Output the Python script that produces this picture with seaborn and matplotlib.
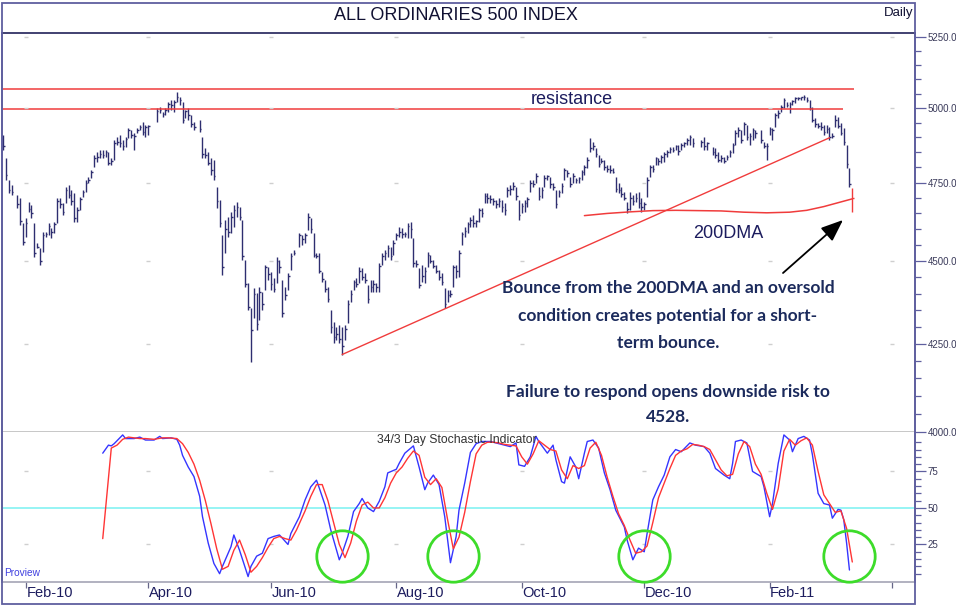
import numpy as np
import pandas as pd
import matplotlib
matplotlib.use("Agg")
import matplotlib.pyplot as plt
import seaborn as sns
from matplotlib.patches import Rectangle
from matplotlib.ticker import FixedLocator, NullFormatter, FuncFormatter

# ---- daily bars, one entry per weekday from 20 Jan 2010 (None = market closed)
highs = [
    4909, 4832, 4759, 4743, None, 4710, 4700, 4620, 4636, 4688,
    4678, 4620, 4557, 4541, 4592, 4592, 4620, 4604, 4624, 4700,
    4700, 4684, 4736, 4743, 4727, 4717, 4672, 4704, 4727, 4759,
    4769, 4792, 4842, 4852, 4859, 4859, 4859, 4852, 4832, 4892,
    4902, 4909, 4892, 4902, 4933, 4926, 4916, 4933, 4943, 4953,
    4943, 4943, None, None, 5002, 5005, 4988, 5002, 5022, 5029,
    5029, 5057, 5040, 5022, 4995, 5002, 4978, 4953, None, 4960,
    4902, 4866, 4852, 4832, 4825, 4736, 4694, 4582, 4630, 4640,
    4656, 4678, 4688, 4672, 4630, 4504, 4433, 4357, 4418, 4402,
    4421, 4405, 4488, 4482, 4467, 4448, 4513, 4504, 4442, 4421,
    4464, 4526, 4535, None, 4588, 4582, 4588, 4652, 4636, 4588,
    4526, 4526, 4467, 4442, 4421, 4351, 4315, 4300, 4307, 4300,
    4307, 4381, 4412, 4442, 4448, 4482, 4479, 4464, 4427, 4442,
    4442, 4433, 4495, 4526, 4535, 4551, 4545, 4566, 4588, 4608,
    4604, 4592, 4620, 4624, 4572, 4504, 4479, 4488, 4482, 4529,
    4519, 4504, 4488, 4473, 4464, 4418, 4412, 4412, 4488, 4488,
    4535, 4592, 4608, 4624, 4640, 4646, 4630, 4668, 4668, 4717,
    4717, 4710, 4700, 4694, 4700, 4694, 4684, 4736, 4743, 4753,
    4736, 4694, 4684, 4694, 4704, 4759, 4759, 4782, 4736, 4736,
    4776, 4776, 4769, 4749, 4727, 4727, 4749, 4799, 4792, 4769,
    4782, 4766, 4769, 4792, 4809, 4836, 4899, 4886, 4866, 4842,
    4832, 4825, 4809, 4809, 4799, 4769, 4749, 4736, 4720, 4688,
    4720, 4710, 4717, 4720, 4700, 4688, 4769, 4809, 4809, 4836,
    4832, 4842, 4852, 4859, 4869, 4869, 4876, 4876, 4882, 4886,
    4899, 4909, 4899, None, None, 4892, 4902, 4886, None, 4869,
    4866, 4852, 4842, 4836, 4842, 4859, 4882, 4926, 4936, 4926,
    4953, 4943, 4916, 4933, 4926, None, 4926, 4886, 4882, 4936,
    4933, 4985, 4995, 5012, 5036, 5022, 5022, 5029, 5040, 5040,
    5040, 5047, 5040, 5029, 5005, 4967, 4950, 4953, 4943, 4943,
    4936, 4916, 4978, 4971, 4950, 4933, 4876, 4799, 4733,
]
lows = [
    4859, 4759, 4717, 4710, None, 4668, 4614, 4551, 4576, 4656,
    4636, 4513, 4541, 4488, 4529, 4576, 4582, 4572, 4588, 4620,
    4668, 4646, 4684, 4700, 4678, 4624, 4624, 4662, 4704, 4720,
    4749, 4766, 4802, 4819, 4832, 4832, 4836, 4809, 4809, 4825,
    4876, 4869, 4859, 4869, 4899, 4899, 4859, 4916, 4926, 4909,
    4902, 4909, None, None, 4953, 4985, 4971, 4978, 4988, 4995,
    4988, 5022, 5012, 4950, 4967, 4960, 4936, 4926, None, 4919,
    4832, 4832, 4809, 4776, 4759, 4668, 4608, 4458, 4526, 4576,
    4588, 4608, 4640, 4630, 4504, 4421, 4351, 4198, 4327, 4292,
    4321, 4351, 4412, 4442, 4412, 4405, 4433, 4464, 4330, 4381,
    4412, 4473, 4519, None, 4545, 4551, 4557, 4598, 4588, 4513,
    4510, 4464, 4436, 4405, 4375, 4283, 4253, 4262, 4253, 4219,
    4262, 4312, 4375, 4412, 4421, 4433, 4442, 4433, 4372, 4405,
    4405, 4405, 4405, 4488, 4504, 4513, 4504, 4519, 4566, 4576,
    4572, 4576, 4572, 4572, 4482, 4482, 4418, 4436, 4433, 4482,
    4495, 4479, 4464, 4442, 4427, 4357, 4375, 4390, 4421, 4448,
    4452, 4551, 4576, 4588, 4608, 4608, 4608, 4624, 4640, 4684,
    4684, 4684, 4678, 4668, 4672, 4656, 4646, 4704, 4710, 4727,
    4694, 4630, 4652, 4656, 4672, 4720, 4736, 4749, 4694, 4700,
    4736, 4759, 4733, 4727, 4668, 4704, 4717, 4759, 4769, 4736,
    4749, 4749, 4749, 4759, 4776, 4799, 4852, 4859, 4836, 4802,
    4815, 4792, 4786, 4782, 4782, 4720, 4717, 4704, 4694, 4652,
    4662, 4678, 4688, 4668, 4656, 4662, 4704, 4769, 4786, 4809,
    4809, 4815, 4819, 4836, 4849, 4852, 4859, 4842, 4859, 4869,
    4876, 4876, 4869, None, None, 4869, 4859, 4859, None, 4842,
    4832, 4819, 4819, 4815, 4825, 4836, 4849, 4876, 4902, 4882,
    4909, 4892, 4876, 4892, 4899, None, 4882, 4866, 4825, 4909,
    4892, 4936, 4967, 4988, 5002, 5005, 4985, 5012, 5019, 5029,
    5029, 5029, 5022, 4995, 4953, 4936, 4933, 4926, 4909, 4916,
    4892, 4899, 4936, 4933, 4909, 4876, 4799, 4736, 4656,
]
closes = [
    4870, 4775, 4725, 4720, None, 4680, 4625, 4560, 4620, 4665,
    4650, 4525, 4545, 4500, 4580, 4585, 4610, 4590, 4615, 4690,
    4680, 4655, 4725, 4710, 4690, 4635, 4660, 4695, 4720, 4750,
    4760, 4785, 4830, 4835, 4845, 4840, 4850, 4815, 4820, 4880,
    4885, 4880, 4870, 4895, 4925, 4910, 4905, 4925, 4935, 4920,
    4935, 4940, None, None, 4990, 4995, 4980, 4995, 5015, 5010,
    5020, 5040, 5030, 4960, 4990, 4975, 4945, 4935, None, 4930,
    4845, 4840, 4815, 4790, 4770, 4690, 4620, 4480, 4600, 4590,
    4640, 4660, 4670, 4640, 4515, 4430, 4360, 4290, 4400, 4310,
    4405, 4370, 4480, 4460, 4430, 4415, 4500, 4480, 4340, 4395,
    4455, 4515, 4525, None, 4580, 4570, 4580, 4640, 4600, 4520,
    4515, 4470, 4445, 4415, 4385, 4300, 4270, 4280, 4265, 4245,
    4295, 4370, 4400, 4435, 4430, 4470, 4450, 4440, 4385, 4420,
    4430, 4420, 4485, 4515, 4525, 4540, 4515, 4555, 4580, 4590,
    4585, 4585, 4610, 4600, 4495, 4490, 4425, 4455, 4470, 4520,
    4500, 4485, 4470, 4450, 4435, 4370, 4395, 4400, 4480, 4470,
    4525, 4585, 4595, 4615, 4630, 4620, 4625, 4660, 4650, 4705,
    4700, 4695, 4690, 4680, 4690, 4670, 4660, 4725, 4730, 4740,
    4705, 4645, 4675, 4685, 4695, 4750, 4745, 4770, 4705, 4725,
    4765, 4770, 4745, 4735, 4680, 4720, 4740, 4790, 4780, 4745,
    4770, 4760, 4765, 4785, 4800, 4825, 4865, 4870, 4845, 4810,
    4820, 4800, 4795, 4790, 4785, 4730, 4725, 4712, 4700, 4665,
    4700, 4690, 4700, 4685, 4670, 4680, 4760, 4800, 4795, 4830,
    4820, 4835, 4845, 4850, 4860, 4858, 4870, 4855, 4875, 4880,
    4890, 4900, 4880, None, None, 4885, 4870, 4880, None, 4850,
    4840, 4825, 4830, 4820, 4835, 4850, 4875, 4915, 4925, 4890,
    4945, 4900, 4905, 4925, 4915, None, 4890, 4870, 4870, 4930,
    4925, 4975, 4985, 5005, 5030, 5010, 5015, 5025, 5035, 5035,
    5038, 5040, 5030, 5000, 4960, 4945, 4940, 4935, 4920, 4930,
    4900, 4905, 4960, 4940, 4915, 4885, 4810, 4745, 4700,
]

# ---- overlays on the price panel (bar numbers count weekdays from 20 Jan 2010)
resistance_levels = [5067, 4998]
trend_days = [119, 290]
trend_values = [4219, 4899]
dma_days = [204, 212, 220, 228, 236, 244, 252, 260, 268, 276, 282, 288, 292, 296, 298]
dma_values = [4643, 4650, 4655, 4659, 4660, 4659, 4658, 4654, 4652, 4654, 4660, 4672, 4682, 4692, 4697]

# ---- 34/3 day stochastic, %K (blue) and %D (red)
k_days = [
    35, 37, 38, 39, 42, 43, 46, 48, 50, 53,
    55, 56, 59, 61, 62, 63, 65, 67, 69, 70,
    72, 74, 76, 77, 80, 81, 83, 86, 87, 89,
    91, 93, 95, 97, 100, 101, 104, 106, 108, 110,
    111, 113, 115, 118, 119, 121, 123, 125, 126, 128,
    130, 132, 134, 135, 138, 139, 141, 144, 146, 148,
    149, 151, 153, 155, 157, 159, 160, 162, 164, 166,
    168, 171, 173, 176, 178, 180, 181, 183, 185, 187,
    188, 191, 193, 194, 196, 197, 199, 201, 202, 204,
    205, 207, 209, 211, 213, 215, 218, 219, 221, 223,
    225, 226, 228, 230, 232, 234, 236, 238, 241, 243,
    246, 248, 250, 253, 255, 256, 257, 259, 261, 263,
    266, 267, 269, 270, 272, 274, 276, 277, 279, 281,
    283, 284, 286, 288, 290, 291, 293, 294, 295, 296,
    297,
]
k_vals = [
    87.5, 93, 92.5, 94, 100, 97.5, 97.5, 98.5, 96.5, 96.5,
    99, 97.5, 98, 97, 93, 86, 78, 71.5, 58, 44,
    26, 12, 5, 10, 23.5, 31.5, 21, 3, 10, 17,
    19, 29, 30.5, 31.5, 25, 32.5, 44, 55.5, 64.5, 69,
    63.5, 52, 35, 14.5, 19, 30.5, 47.5, 53, 56.5, 50,
    47.5, 54.5, 64.5, 74, 76.5, 80.5, 87.5, 92.5, 78, 62.5,
    67, 72.5, 66, 44, 12.5, 30.5, 48.5, 67, 88, 94,
    95.5, 95.5, 94.5, 93, 92, 94.5, 79.5, 78.5, 85, 99,
    95.5, 87.5, 93, 83, 68, 67, 85, 78, 70, 87.5,
    95.5, 96.5, 91, 74, 62.5, 48.5, 37, 28, 14.5, 22.5,
    20, 32.5, 55.5, 64.5, 72.5, 85, 90, 88.5, 94.5, 93,
    92, 87.5, 77, 72.5, 70, 80.5, 95.5, 96.5, 94.5, 75,
    71.5, 64.5, 44, 53, 80.5, 100, 96.5, 88.5, 97.5, 99,
    96.5, 86.5, 60, 53, 52, 43, 49, 48.5, 42, 26,
    7.5,
]
d_days = [
    35, 38, 40, 42, 44, 46, 48, 50, 53, 56,
    58, 61, 63, 65, 67, 69, 71, 73, 75, 77,
    79, 81, 83, 85, 87, 89, 91, 93, 95, 97,
    99, 101, 103, 106, 108, 110, 112, 114, 116, 118,
    120, 122, 124, 126, 128, 130, 132, 134, 136, 138,
    140, 142, 144, 146, 148, 150, 152, 154, 156, 158,
    160, 162, 164, 166, 168, 170, 172, 174, 176, 178,
    180, 182, 184, 186, 188, 190, 192, 194, 196, 198,
    200, 202, 204, 206, 208, 210, 212, 214, 216, 218,
    220, 222, 224, 226, 228, 230, 232, 234, 236, 238,
    240, 242, 244, 246, 248, 250, 252, 254, 256, 258,
    260, 262, 264, 266, 268, 270, 272, 274, 276, 278,
    280, 282, 284, 286, 288, 290, 292, 294, 296, 298,
]
d_vals = [
    29, 91, 93, 97, 98.5, 98, 97.5, 97.5, 97, 98,
    98, 97.5, 94, 88, 80, 69, 55, 39, 22, 8,
    10, 21, 28, 18, 6, 10, 16, 23, 29, 30.5,
    29, 28, 35, 48, 58, 66, 66, 55, 40, 25,
    16, 26, 41, 52, 54, 50, 50, 57, 67, 74,
    78, 84, 89, 86, 71, 66, 70, 64, 42, 22,
    30, 47, 68, 87, 93, 95, 95, 94.5, 93.5, 93,
    92.5, 85, 80, 87, 96, 93, 90, 89, 76, 70,
    79, 77, 79, 91, 95, 86, 71, 58, 46, 38,
    28, 19, 20, 24, 40, 57, 67, 77, 86, 89,
    90.5, 93.5, 93, 92, 90, 83, 76, 72, 73, 87,
    95.5, 92, 80, 73, 60, 49, 63, 89, 97, 93,
    96, 98, 93, 75, 59, 53, 47, 48, 36, 13,
]
oversold_days = [119, 158, 225, 297]
oversold_level = 17

price_ticks = [4000, 4250, 4500, 4750, 5000, 5250]
stoch_ticks = [25, 50, 75]
tick_months = ["2010-02", "2010-04", "2010-06", "2010-08", "2010-10", "2010-12", "2011-02", "2011-04"]
month_labels = ["Feb-10", "Apr-10", "Jun-10", "Aug-10", "Oct-10", "Dec-10", "Feb-11", ""]

note_lines = [
    "Bounce from the 200DMA and an oversold",
    "condition creates potential for a short-",
    "term bounce.",
    "Failure to respond opens downside risk to",
    "4528.",
]

# ---------------------------------------------------------------------------
sns.set_theme(style="ticks")
plt.rcParams["font.family"] = ["Liberation Sans", "DejaVu Sans"]

W, H = 956, 609
def fx(px):
    return px / W
def fy(py):
    return 1 - py / H

frame_col = "#5f5f9f"
bar_col = "#2e2e70"
red = "#f03c3c"
navy_txt = "#1c1c5e"

calendar = pd.bdate_range("2010-01-20", "2011-04-29")
ym = calendar.strftime("%Y-%m")
tick_pos = [int(np.argmax(ym == m)) for m in tick_months]

fig = plt.figure(figsize=(W / 100, H / 100), dpi=100)
ax = fig.add_axes([fx(2), fy(432), fx(915) - fx(2), fy(33) - fy(432)])
ax2 = fig.add_axes([fx(2), fy(582), fx(915) - fx(2), fy(432) - fy(582)], sharex=ax)

hi = np.array(highs, dtype=float)
lo = np.array(lows, dtype=float)
cl = np.array(closes, dtype=float)
days = np.arange(len(cl))
ok = ~np.isnan(cl)
last = days[ok][-1]
cols = np.where(days == last, red, bar_col)

ax.set_yscale("log")
ax.vlines(days[ok], lo[ok], hi[ok], colors=cols[ok], lw=1.0)
ax.hlines(cl[ok], days[ok], days[ok] + 0.55, colors=cols[ok], lw=1.0)

# resistance, trend line, 200 day average
ax.hlines(resistance_levels[0], -0.35, 298.6, color=red, lw=1.1)
ax.hlines(resistance_levels[1], -0.35, 294.7, color=red, lw=1.1)
ax.plot(trend_days, trend_values, color=red, lw=1.0)
sns.lineplot(x=dma_days, y=dma_values, ax=ax, color=red, linewidth=1.1)

# faint grid marks
for p in tick_pos:
    for lv in price_ticks[1:]:
        ax.plot(p, lv, marker="_", ms=3, color="#cfcfcf", mew=1)
    for lv in [25, 75]:
        ax2.plot(p, lv, marker="_", ms=3, color="#cfcfcf", mew=1)

ax.set_xlim(-0.35, 320)
ax.set_ylim(3999.5, 5266)
ax.yaxis.set_major_locator(FixedLocator(price_ticks))
ax.yaxis.set_minor_locator(FixedLocator(list(range(4050, 5300, 50))))
ax.yaxis.set_major_formatter(FuncFormatter(lambda v, p: f"{v:.1f}"))
ax.yaxis.set_minor_formatter(NullFormatter())
ax.tick_params(axis="y", which="both", left=False, labelleft=False, right=True, labelright=True,
               direction="out", color=frame_col, width=0.9)
ax.tick_params(axis="y", which="major", length=8, labelsize=7, labelcolor="#3a3a5a", pad=1)
ax.tick_params(axis="y", which="minor", length=4)
ax.tick_params(axis="x", which="both", bottom=False, top=False, labelbottom=False)
ax.set_ylabel("")
for s in ["left", "right"]:
    ax.spines[s].set_color(frame_col)
    ax.spines[s].set_linewidth(1.2)
ax.spines["top"].set_color("#333366")
ax.spines["top"].set_linewidth(1.3)
ax.spines["bottom"].set_color("#c0c0c0")

# stochastic panel
ax2.axhline(50, color="#8ef3f3", lw=1.3, zorder=1)
sns.lineplot(x=k_days, y=k_vals, ax=ax2, color="#3535ff", linewidth=1.0)
sns.lineplot(x=d_days, y=d_vals, ax=ax2, color="#ff3535", linewidth=1.0)
ax2.plot(oversold_days, [oversold_level] * len(oversold_days), "o", ms=37, mfc="none",
         mec="#3ddc2a", mew=2.0, clip_on=False, zorder=5)
ax2.set_ylim(-0.7, 102)
ax2.yaxis.set_major_locator(FixedLocator(stoch_ticks))
ax2.yaxis.set_minor_locator(FixedLocator(list(range(5, 100, 5))))
ax2.yaxis.set_minor_formatter(NullFormatter())
ax2.tick_params(axis="y", which="both", left=False, labelleft=False, right=True, labelright=True,
                direction="out", color=frame_col, width=0.9)
ax2.tick_params(axis="y", which="major", length=8, labelsize=7, labelcolor="#3a3a5a", pad=1)
ax2.tick_params(axis="y", which="minor", length=4)
ax2.set_xticks(tick_pos)
ax2.set_xticklabels([])
ax2.tick_params(axis="x", which="major", bottom=True, length=4, width=0.9, color="#666688", direction="out")
ax2.tick_params(axis="x", which="minor", bottom=False)
ax2.set_xlabel("")
ax2.set_ylabel("")
for p, lab in zip(tick_pos, month_labels):
    ax2.text(p + 0.2, -0.075, lab, transform=ax2.get_xaxis_transform(), ha="left", va="center",
             fontsize=10.5, color=navy_txt)
for s in ["left", "right"]:
    ax2.spines[s].set_color(frame_col)
    ax2.spines[s].set_linewidth(1.2)
ax2.spines["top"].set_visible(False)
ax2.spines["bottom"].set_color("#a8a8b8")

# outer frame
fig.add_artist(Rectangle((fx(2), fy(604)), fx(915) - fx(2), fy(3) - fy(604), fill=False,
                         ec=frame_col, lw=1.3, transform=fig.transFigure))

# texts
fig.text(fx(456), fy(16), "ALL ORDINARIES 500 INDEX", ha="center", va="center", fontsize=13, color="#111133")
fig.text(fx(913), fy(13), "Daily", ha="right", va="center", fontsize=9.5, color="#111133")
fig.text(fx(572), fy(100), "resistance", ha="center", va="center", fontsize=13, color=navy_txt)
fig.text(fx(728), fy(233), "200DMA", ha="center", va="center", fontsize=13, color=navy_txt)
fig.text(fx(457), fy(440), "34/3 Day Stochastic Indicator", ha="center", va="center", fontsize=8.8, color="#333333")
fig.text(fx(4), fy(573), "Proview", ha="left", va="center", fontsize=7.3, color="#4040e0")
for yy, line in zip([288, 316, 343, 392, 417], note_lines):
    fig.text(fx(668), fy(yy), line, ha="center", va="center", fontsize=12.5, fontweight="bold",
             family=["Lato", "DejaVu Sans"], color="#1b2a5c")

ax.annotate("", xy=(fx(843), fy(220)), xytext=(fx(783), fy(273)), xycoords="figure fraction",
            textcoords="figure fraction", annotation_clip=False,
            arrowprops=dict(arrowstyle="-|>,head_length=0.75,head_width=0.3", color="black",
                            lw=1.3, mutation_scale=18, shrinkA=0, shrinkB=0))

fig.savefig("out.png", dpi=100)
